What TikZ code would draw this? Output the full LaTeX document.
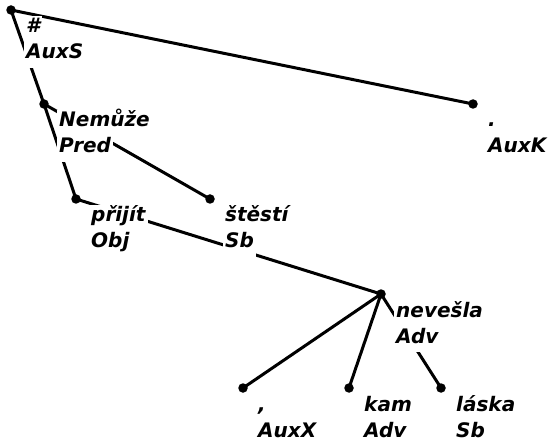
\documentclass[tikz,border=0pt]{standalone}
\usepackage{fontspec}
\newfontfamily\treefont{DejaVu Sans}

\begin{document}
\begin{tikzpicture}[x = 1pt, y = -1pt,
	dot/.style = {circle, fill = black, inner sep = 0pt, minimum size = 9.5pt},
	edge/.style = {line width = 3pt},
	lbl/.style = {anchor = base west, fill = white, inner sep = 2pt,
		text height = 15pt, text depth = 7pt,
		font = \treefont\bfseries\itshape\fontsize{20}{24}\selectfont},
	form/.style = {lbl, xshift = 13pt, yshift = -23pt},
	afun/.style = {lbl, yshift = -26pt}]

	% Canvas

	\useasboundingbox (0, 0) rectangle (548, 443);

	% Tree nodes (dots)

	\node [dot] (root) at (11, 10) {};
	\node [dot] (nemuze) at (44, 104) {};
	\node [dot] (prijit) at (76, 199) {};
	\node [dot] (stesti) at (210, 199) {};
	\node [dot] (nevesla) at (381, 294) {};
	\node [dot] (carka) at (243, 388) {};
	\node [dot] (kam) at (349, 388) {};
	\node [dot] (laska) at (441, 388) {};
	\node [dot] (tecka) at (473, 104) {};

	% Dependency edges

	\draw [edge] (root.center) -- (tecka.center);
	\draw [edge] (root.center) -- (nemuze.center);
	\draw [edge] (nemuze.center) -- (prijit.center);
	\draw [edge] (nemuze.center) -- (stesti.center);
	\draw [edge] (prijit.center) -- (nevesla.center);
	\draw [edge] (nevesla.center) -- (carka.center);
	\draw [edge] (nevesla.center) -- (kam.center);
	\draw [edge] (nevesla.center) -- (laska.center);

	% Labels: word form on top, analytical function below

	\node [form] (root-f) at (root) {\#};
	\node [afun] (root-a) at (root-f.base west) {AuxS};

	\node [form] (nemuze-f) at (nemuze) {Nemůže};
	\node [afun] (nemuze-a) at (nemuze-f.base west) {Pred};

	\node [form] (prijit-f) at (prijit) {přijít};
	\node [afun] (prijit-a) at (prijit-f.base west) {Obj};

	\node [form] (stesti-f) at (stesti) {štěstí};
	\node [afun] (stesti-a) at (stesti-f.base west) {Sb};

	\node [form] (nevesla-f) at (nevesla) {nevešla};
	\node [afun] (nevesla-a) at (nevesla-f.base west) {Adv};

	\node [form] (carka-f) at (carka) {,};
	\node [afun] (carka-a) at (carka-f.base west) {AuxX};

	\node [form] (kam-f) at (kam) {kam};
	\node [afun] (kam-a) at (kam-f.base west) {Adv};

	\node [form] (laska-f) at (laska) {láska};
	\node [afun] (laska-a) at (laska-f.base west) {Sb};

	\node [form] (tecka-f) at (tecka) {.};
	\node [afun] (tecka-a) at (tecka-f.base west) {AuxK};

\end{tikzpicture}
\end{document}
